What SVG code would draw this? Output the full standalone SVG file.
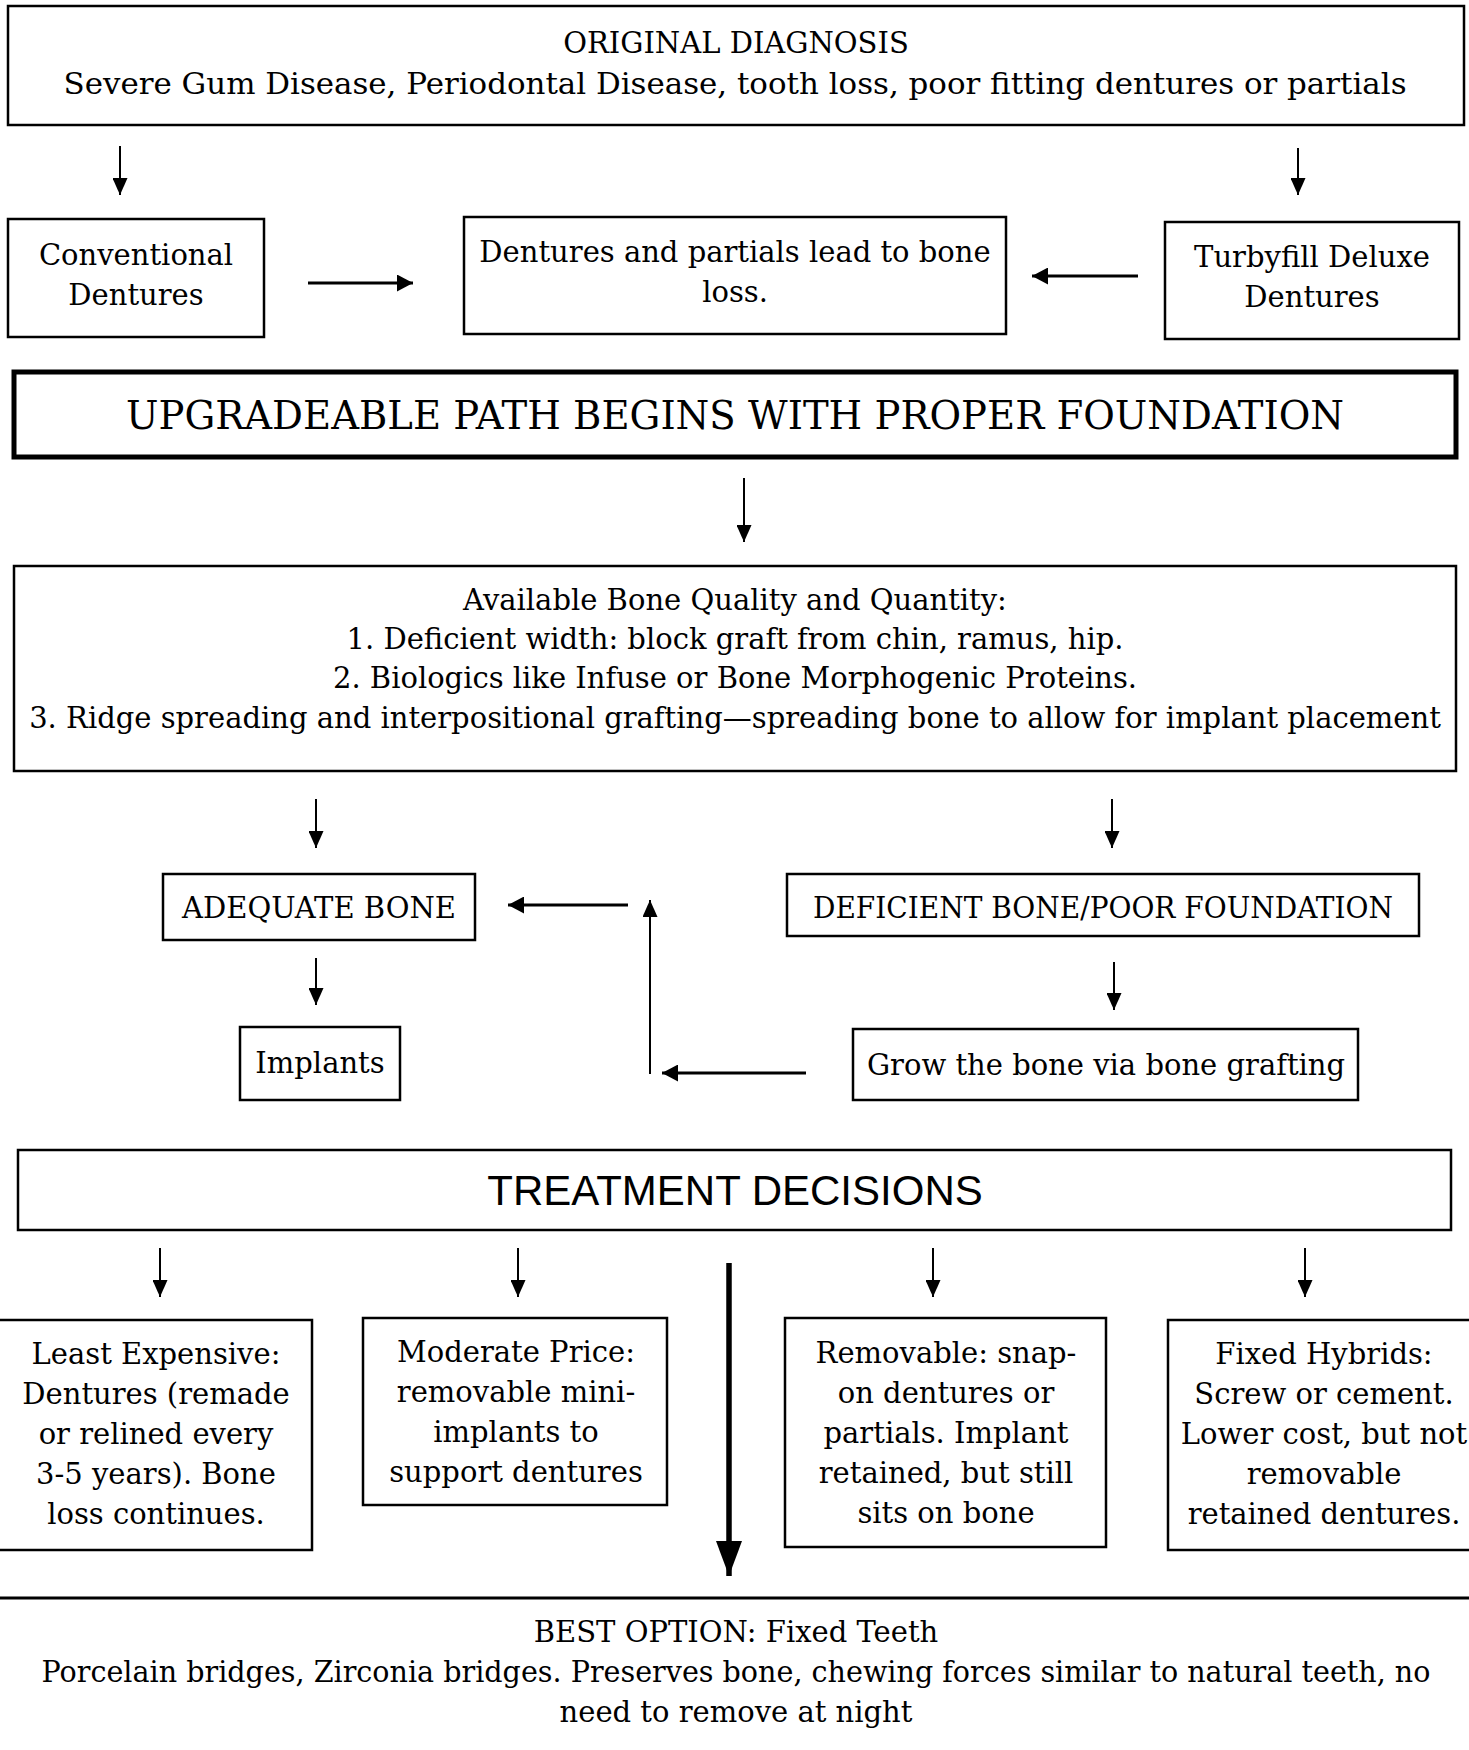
<svg xmlns="http://www.w3.org/2000/svg" width="1469" height="1750" viewBox="0 0 1469 1750">
<style>
  .box { fill: #fff; stroke: #000; stroke-width: 2.5; }
  .thick { fill: #fff; stroke: #000; stroke-width: 5; }
  .t { font-family: "DejaVu Serif", "Liberation Serif", serif; font-size: 29px; fill: #000; text-anchor: middle; }
  .big { font-family: "DejaVu Serif", "Liberation Serif", serif; font-size: 39px; fill: #000; text-anchor: middle; }
  .sans { font-family: "Liberation Sans", Arial, sans-serif; font-size: 42px; fill: #000; text-anchor: middle; }
  .thin { stroke: #000; stroke-width: 2; fill: none; marker-end: url(#hThin); }
  .med { stroke: #000; stroke-width: 3; fill: none; marker-end: url(#hMed); }
  .heavy { stroke: #000; stroke-width: 5.5; fill: none; marker-end: url(#hBig); }
</style>
<defs>
  <marker id="hThin" markerUnits="userSpaceOnUse" markerWidth="17" markerHeight="15" refX="17" refY="7.5" orient="auto">
    <path d="M0,0 L17,7.5 L0,15 z" fill="#000"/>
  </marker>
  <marker id="hMed" markerUnits="userSpaceOnUse" markerWidth="16" markerHeight="17" refX="16" refY="8.5" orient="auto">
    <path d="M0,0 L16,8.5 L0,17 z" fill="#000"/>
  </marker>
  <marker id="hBig" markerUnits="userSpaceOnUse" markerWidth="35" markerHeight="26" refX="35" refY="13" orient="auto">
    <path d="M0,0 L35,13 L0,26 z" fill="#000"/>
  </marker>
</defs>
<rect width="1469" height="1750" fill="#fff"/>

<g id="original-diagnosis">
  <rect class="box" x="8" y="6" width="1456" height="119"/>
  <text class="t" x="736" y="53">ORIGINAL DIAGNOSIS</text>
  <text class="t" x="735" y="94" textLength="1343" lengthAdjust="spacingAndGlyphs">Severe Gum Disease, Periodontal Disease, tooth loss, poor fitting dentures or partials</text>
</g>
<g id="conventional-dentures">
  <rect class="box" x="8" y="219" width="256" height="118"/>
  <text class="t" x="136" y="265">Conventional</text>
  <text class="t" x="136" y="305">Dentures</text>
</g>
<g id="bone-loss">
  <rect class="box" x="464" y="217" width="542" height="117"/>
  <text class="t" x="735" y="262">Dentures and partials lead to bone</text>
  <text class="t" x="735" y="302">loss.</text>
</g>
<g id="turbyfill">
  <rect class="box" x="1165" y="222" width="294" height="117"/>
  <text class="t" x="1312" y="267">Turbyfill Deluxe</text>
  <text class="t" x="1312" y="307">Dentures</text>
</g>
<g id="upgradeable">
  <rect class="thick" x="14" y="372" width="1442" height="85"/>
  <text class="big" x="735" y="429" textLength="1218" lengthAdjust="spacingAndGlyphs">UPGRADEABLE PATH BEGINS WITH PROPER FOUNDATION</text>
</g>
<g id="bone-quality">
  <rect class="box" x="14" y="566" width="1442" height="205"/>
  <text class="t" x="735" y="610">Available Bone Quality and Quantity:</text>
  <text class="t" x="735" y="649">1. Deficient width: block graft from chin, ramus, hip.</text>
  <text class="t" x="735" y="688">2. Biologics like Infuse or Bone Morphogenic Proteins.</text>
  <text class="t" x="735" y="728">3. Ridge spreading and interpositional grafting—spreading bone to allow for implant placement</text>
</g>
<g id="adequate-bone">
  <rect class="box" x="163" y="874" width="312" height="66"/>
  <text class="t" x="319" y="918">ADEQUATE BONE</text>
</g>
<g id="deficient-bone">
  <rect class="box" x="787" y="874" width="632" height="62"/>
  <text class="t" x="1103" y="918" textLength="580" lengthAdjust="spacingAndGlyphs">DEFICIENT BONE/POOR FOUNDATION</text>
</g>
<g id="implants">
  <rect class="box" x="240" y="1027" width="160" height="73"/>
  <text class="t" x="320" y="1073">Implants</text>
</g>
<g id="grow-bone">
  <rect class="box" x="853" y="1029" width="505" height="71"/>
  <text class="t" x="1106" y="1075">Grow the bone via bone grafting</text>
</g>
<g id="treatment-decisions">
  <rect class="box" x="18" y="1150" width="1433" height="80"/>
  <text class="sans" x="735" y="1205">TREATMENT DECISIONS</text>
</g>
<g id="least-expensive">
  <rect class="box" x="-2" y="1320" width="314" height="230"/>
  <text class="t" x="156" y="1364">Least Expensive:</text>
  <text class="t" x="156" y="1404">Dentures (remade</text>
  <text class="t" x="156" y="1444">or relined every</text>
  <text class="t" x="156" y="1484">3-5 years). Bone</text>
  <text class="t" x="156" y="1524">loss continues.</text>
</g>
<g id="moderate-price">
  <rect class="box" x="363" y="1318" width="304" height="187"/>
  <text class="t" x="516" y="1362">Moderate Price:</text>
  <text class="t" x="516" y="1402">removable mini-</text>
  <text class="t" x="516" y="1442">implants to</text>
  <text class="t" x="516" y="1482">support dentures</text>
</g>
<g id="removable">
  <rect class="box" x="785" y="1318" width="321" height="229"/>
  <text class="t" x="946" y="1363">Removable: snap-</text>
  <text class="t" x="946" y="1403">on dentures or</text>
  <text class="t" x="946" y="1443">partials. Implant</text>
  <text class="t" x="946" y="1483">retained, but still</text>
  <text class="t" x="946" y="1523">sits on bone</text>
</g>
<g id="fixed-hybrids">
  <rect class="box" x="1168" y="1320" width="310" height="230"/>
  <text class="t" x="1324" y="1364">Fixed Hybrids:</text>
  <text class="t" x="1324" y="1404">Screw or cement.</text>
  <text class="t" x="1324" y="1444">Lower cost, but not</text>
  <text class="t" x="1324" y="1484">removable</text>
  <text class="t" x="1324" y="1524">retained dentures.</text>
</g>
<g id="best-option">
  <line x1="0" y1="1598" x2="1469" y2="1598" stroke="#000" stroke-width="3"/>
  <text class="t" x="736" y="1642">BEST OPTION: Fixed Teeth</text>
  <text class="t" x="736" y="1682" textLength="1389" lengthAdjust="spacingAndGlyphs">Porcelain bridges, Zirconia bridges. Preserves bone, chewing forces similar to natural teeth, no</text>
  <text class="t" x="736" y="1722">need to remove at night</text>
</g>

<g id="connectors">
  <line class="thin" x1="120" y1="146" x2="120" y2="195"/>
  <line class="thin" x1="1298" y1="148" x2="1298" y2="195"/>
  <line class="med" x1="308" y1="283" x2="413" y2="283"/>
  <line class="med" x1="1138" y1="276" x2="1032" y2="276"/>
  <line class="thin" x1="744" y1="478" x2="744" y2="542"/>
  <line class="thin" x1="316" y1="799" x2="316" y2="848"/>
  <line class="thin" x1="1112" y1="799" x2="1112" y2="848"/>
  <line class="med" x1="628" y1="905" x2="508" y2="905"/>
  <line class="thin" x1="650" y1="1074" x2="650" y2="900"/>
  <line class="thin" x1="316" y1="958" x2="316" y2="1005"/>
  <line class="thin" x1="1114" y1="962" x2="1114" y2="1010"/>
  <line class="med" x1="806" y1="1073" x2="662" y2="1073"/>
  <line class="thin" x1="160" y1="1248" x2="160" y2="1297"/>
  <line class="thin" x1="518" y1="1248" x2="518" y2="1297"/>
  <line class="thin" x1="933" y1="1248" x2="933" y2="1297"/>
  <line class="thin" x1="1305" y1="1248" x2="1305" y2="1297"/>
  <line class="heavy" x1="729" y1="1263" x2="729" y2="1576"/>
</g>
</svg>
